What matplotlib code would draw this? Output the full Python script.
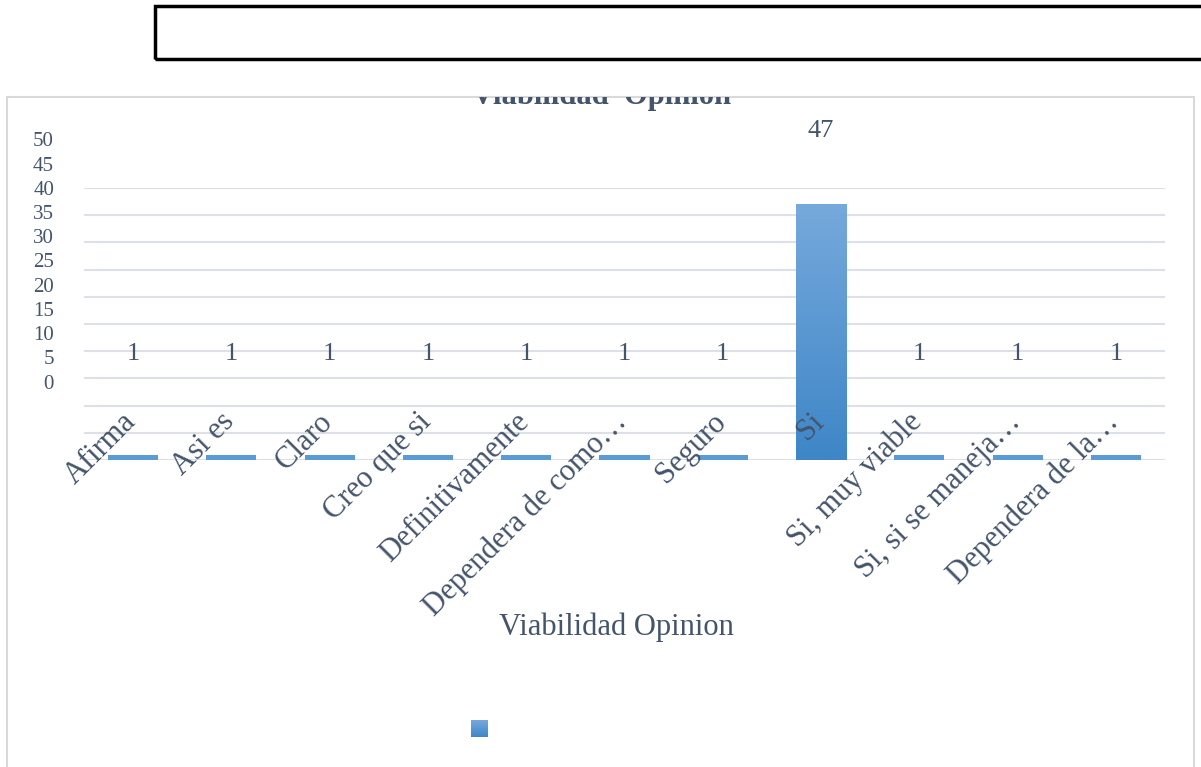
import numpy as np
import matplotlib
matplotlib.use("Agg")
import matplotlib.pyplot as plt
from matplotlib.colors import LinearSegmentedColormap
from matplotlib.patches import Rectangle
from matplotlib.transforms import Bbox, TransformedBbox, blended_transform_factory

categorias = ["Afirma", "Asi es", "Claro", "Creo que si", "Definitivamente",
              "Dependera de como…", "Seguro", "Si", "Si, muy viable",
              "Si, si se maneja…", "Dependera de la…"]
valores = [1, 1, 1, 1, 1, 1, 1, 47, 1, 1, 1]
ticks_y = [0, 5, 10, 15, 20, 25, 30, 35, 40, 45, 50]

titulo = "Viabilidad  Opinion"
titulo_eje = "Viabilidad Opinion"

TEXTO = "#44546A"
GRID = "#DDE1E7"
SERIF = "Liberation Serif"

W, H = 1201, 767
fig = plt.figure(figsize=(W / 100, H / 100), dpi=100)
fig.patch.set_facecolor("white")

def fx(px):
    return px / W

def fy(py):
    return 1 - py / H

# caja negra superior
fig.patches.append(Rectangle((fx(155), fy(59)), fx(1260) - fx(155), fy(6) - fy(59),
                             transform=fig.transFigure, fill=False,
                             edgecolor="black", linewidth=2.5))

# borde del grafico
borde = Rectangle((fx(7), fy(800)), fx(1194) - fx(7), fy(97) - fy(800),
                  transform=fig.transFigure, fill=False,
                  edgecolor="#D9D9D9", linewidth=1.5)
fig.patches.append(borde)

ax = fig.add_axes([fx(84), fy(460), fx(1165) - fx(84), fy(188) - fy(460)])
ax.set_facecolor("none")

x = np.arange(len(categorias))
barras = ax.bar(x, valores, width=0.51, color="#5B9BD5", zorder=2)

# degradado vertical en cada barra
cmap = LinearSegmentedColormap.from_list("azul", ["#3E86C7", "#76A9DC"])
grad = np.linspace(0, 1, 256).reshape(-1, 1)
for b in barras:
    x0, y0, w, h = b.get_x(), b.get_y(), b.get_width(), b.get_height()
    if h < 5:
        continue
    ax.imshow(grad, extent=[x0, x0 + w, y0, y0 + h], origin="lower",
              aspect="auto", cmap=cmap, clip_path=b, zorder=3)

ax.set_xlim(-0.5, len(categorias) - 0.5)
ax.set_ylim(0, 50)
ax.set_yticks(ticks_y)
ax.yaxis.grid(True, color=GRID, linewidth=1.5, zorder=0)
ax.set_axisbelow(True)
ax.set_xticks([])
ax.tick_params(left=False, labelleft=False)
for s in ax.spines.values():
    s.set_visible(False)

# las etiquetas del eje y de los valores van en una escala comprimida
def escala_etiqueta(v):
    return 13.97 + 0.89 * v

tr_y = blended_transform_factory(fig.transFigure, ax.transData)
for t in ticks_y:
    ax.text(fx(54), escala_etiqueta(t), str(t), transform=tr_y, ha="right",
            va="center", fontsize=15, family=SERIF, color=TEXTO, clip_on=False)

for xi, v in zip(x, valores):
    ax.text(xi, escala_etiqueta(v) + 4.6, str(v), ha="center", va="center",
            fontsize=19, family=SERIF, color=TEXTO, clip_on=False)

# etiquetas de categoria giradas 45 grados
for xi, c in zip(x, categorias):
    ax.text(xi + 0.04, 6.8, c, rotation=45, rotation_mode="anchor",
            ha="right", va="baseline", fontsize=22, family=SERIF,
            color=TEXTO, clip_on=False, zorder=4)

fig.text(fx(616), fy(627), titulo_eje, ha="center", va="center",
         fontsize=22, family=SERIF, color=TEXTO)

# titulo cortado por el borde superior
t = fig.text(fx(602), fy(104), titulo, ha="center", va="baseline",
             fontsize=22, family=SERIF, weight="bold", color=TEXTO)
t.set_clip_box(TransformedBbox(Bbox([[0, 0], [1, fy(97)]]), fig.transFigure))
t.set_clip_on(True)

# muestra de la leyenda
lg = fig.add_axes([fx(471), fy(737), fx(488) - fx(471), fy(720) - fy(737)])
lg.imshow(grad, origin="lower", aspect="auto", cmap=cmap)
lg.axis("off")

fig.savefig("out.png", dpi=100)
